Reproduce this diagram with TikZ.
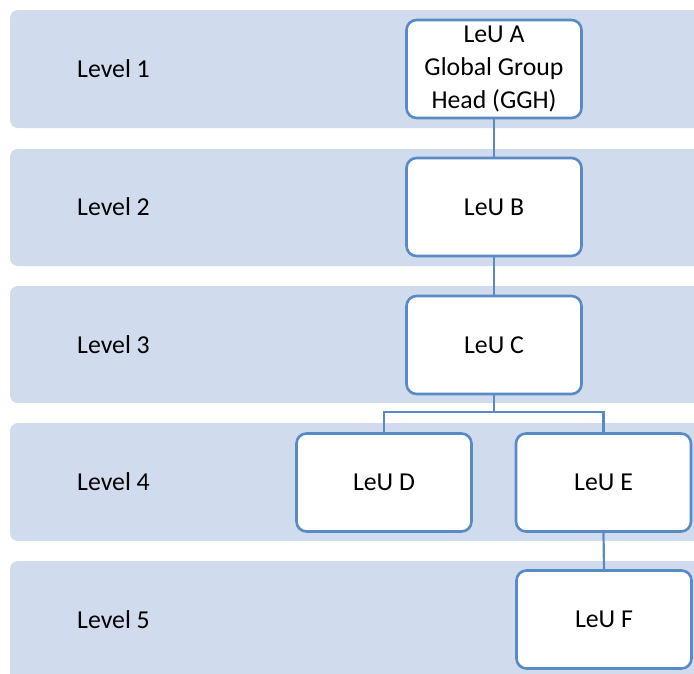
\documentclass[tikz,border=0pt]{standalone}
\usepackage{fontspec}
\setmainfont{Carlito}
\definecolor{bandfill}{HTML}{D0DCEE}
\definecolor{nodeline}{HTML}{5A8AC4}
\begin{document}
\begin{tikzpicture}[x=1pt,y=-1pt,
  band/.style={fill=bandfill, rounded corners=8pt},
  lvl/.style={anchor=west, inner sep=0pt, font=\fontsize{25.8}{30}\selectfont},
  unit/.style={draw=nodeline, line width=2.6pt, fill=white, rounded corners=10pt,
    minimum width=175pt, minimum height=98pt, inner sep=0pt, align=center,
    font=\fontsize{25.8}{33}\selectfont},
  conn/.style={draw=nodeline, line width=2.2pt}]
\useasboundingbox (0,0) rectangle (694,673);
\clip (0,0) rectangle (694,673);
\fill[band] (10,10) rectangle (730,128);
\fill[band] (10,149) rectangle (730,266);
\fill[band] (10,286) rectangle (730,403);
\fill[band] (10,423) rectangle (730,541);
\fill[band] (10,561) rectangle (730,720);
\node[lvl] (l1) at (77,69) {Level 1};
\node[lvl] (l2) at (77,207) {Level 2};
\node[lvl] (l3) at (77,345) {Level 3};
\node[lvl] (l4) at (77,482) {Level 4};
\node[lvl] (l5) at (77,620) {Level 5};
\coordinate (s) at (494,412);
\node[unit] (A) at (494,69) {LeU A\\Global Group\\Head (GGH)};
\node[unit] (B) at (494,207) {LeU B};
\node[unit] (C) at (494,345) {LeU C};
\node[unit] (D) at (384,482.5) {LeU D};
\node[unit] (E) at (603.5,482.5) {LeU E};
\node[unit] (F) at (604,619.5) {LeU F};
\draw[conn] (A.south) -- (B.north);
\draw[conn] (B.south) -- (C.north);
\draw[conn] (C.south) -- (s);
\draw[conn] (D.north) |- (s) -| (E.north);
\draw[conn] (E.south) -- (F.north);
\end{tikzpicture}
\end{document}
